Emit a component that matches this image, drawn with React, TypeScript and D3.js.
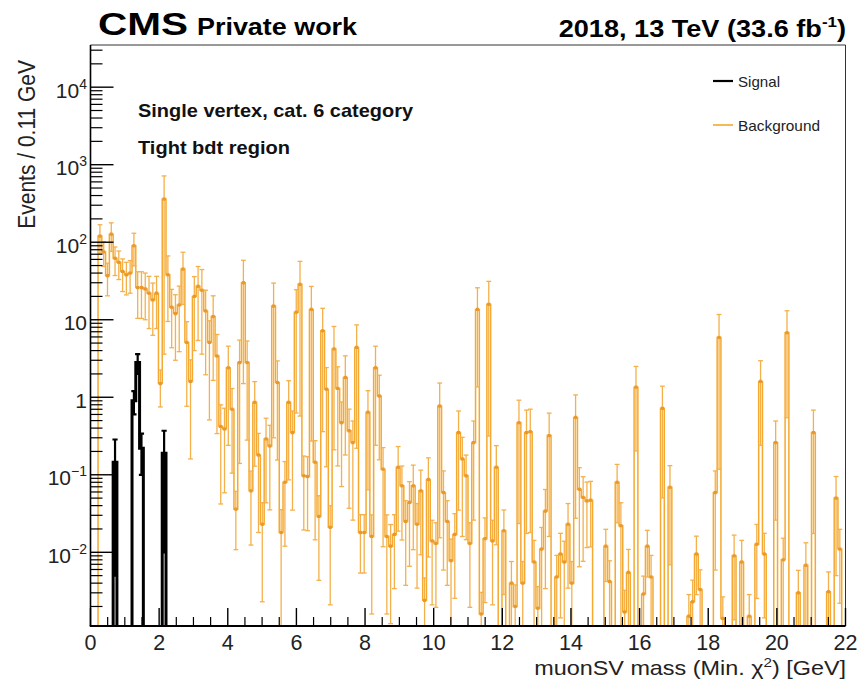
import React from "react";
import * as d3 from "d3";

// Canvas and frame geometry
const W = 858;
const H = 679;
const FRAME = { left: 90.5, right: 845.5, top: 45, bottom: 626 };

// Axis ranges
const X_MIN = 0;
const X_MAX = 22;
const BIN_WIDTH = 0.11;
const Y_MIN = 0.00112;
const Y_MAX = 35000;

const X_MAJOR_TICKS = [0, 2, 4, 6, 8, 10, 12, 14, 16, 18, 20, 22];
const Y_MAJOR_EXP = [-2, -1, 0, 1, 2, 3, 4];

// Background: events per bin (0.11 GeV bins, 0–22 GeV)
const bkgValues = [
  0, 0, 120, 75, 37, 127, 62, 55, 42, 38,
  40, 90, 26, 26, 25, 22, 18, 22, 1.5, 360,
  38, 14.5, 12, 15.5, 45, 5.1, 1.6, 20, 27, 24,
  13, 5.1, 11, 3.4, 0.42, 0.39, 2.4, 0.7, 0.036, 2.8,
  30, 2.8, 0.062, 0.86, 0.18, 0.023, 0.29, 0.235, 15, 1.55,
  0.018, 0.08, 0.86, 0.35, 12.5, 28.6, 0.097, 0.095, 13.6, 0.145,
  0.029, 7.2, 1.27, 0.021, 4.2, 1.3, 0.47, 1.8, 0.37, 0.26,
  4.4, 0.018, 0.018, 0.64, 0.016, 2.4, 1.04, 0.118, 0.016, 0.012,
  0.017, 0.125, 0.072, 0.025, 0.044, 0.072, 0.023, 0.062, 0.0024, 0.087,
  0.014, 0.013, 0.77, 0.059, 0.025, 0.0078, 0.017, 0.35, 0.16, 0.097,
  0.013, 0.26, 13.6, 0.0016, 0.015, 15.8, 0.014, 0.125, 0, 0.019,
  0, 0.004, 0.002, 0.47, 0.004, 0.35, 0.36, 0.0075, 0.0019, 0.011,
  0.034, 0.32, 0, 0.0048, 0.0095, 0.0075, 0.023, 0.004, 0.55, 0.065,
  0.051, 0.046, 0.047, 0, 0, 0, 0.012, 0.0042, 0, 0.08,
  0.022, 0.0017, 0.0055, 0, 1.35, 0, 0.0029, 0.012, 0.0048, 0,
  0, 0.72, 0, 0.069, 0, 0, 0, 0, 0.0015, 0.0023,
  0.0095, 0.0033, 0, 0, 0, 0.059, 5.9, 0.0014, 0, 0,
  0.009, 0, 0.0075, 0, 0.0015, 0, 0.0127, 1.6, 0.0095, 0,
  0, 0.26, 0, 0.008, 6.8, 0, 0, 0.003, 0, 0.0068,
  0, 0.35, 0, 0, 0, 0.0031, 0, 0.05, 0.011, 0,
];

// Background: relative statistical uncertainty per bin
const bkgRelErr = [
  0, 0, 0.4, 0.35, 0.45, 0.4, 0.4, 0.4, 0.45, 0.45,
  0.45, 0.45, 0.6, 0.6, 0.6, 0.65, 0.65, 0.65, 0.5, 0.99,
  0.75, 0.7, 0.75, 0.75, 0.65, 0.85, 0.9, 0.8, 0.8, 0.85,
  0.85, 0.9, 0.85, 0.9, 0.9, 0.85, 0.9, 0.85, 0.7, 0.95,
  0.95, 0.9, 0.8, 0.85, 0.9, 0.9, 0.85, 0.85, 0.98, 0.9,
  0.97, 0.85, 0.9, 0.9, 0.95, 0.98, 0.8, 0.8, 0.98, 0.9,
  0.85, 0.95, 0.9, 0.9, 0.95, 0.9, 0.85, 0.9, 0.9, 0.9,
  0.95, 0.7, 0.7, 0.9, 0.9, 0.9, 0.85, 0.9, 0.9, 0.9,
  0.8, 0.85, 0.8, 0.85, 0.85, 0.85, 0.85, 0.85, 0.95, 0.9,
  0.85, 0.85, 0.98, 0.9, 0.85, 0.9, 0.85, 0.9, 0.9, 0.85,
  0.85, 0.9, 0.9, 0.9, 0.85, 0.98, 0.85, 0.9, 0, 0.85,
  0, 0.9, 0.9, 0.95, 0.9, 0.95, 0.95, 0.9, 0.9, 0.9,
  0.9, 0.95, 0, 0.9, 0.85, 0.85, 0.85, 0.9, 0.95, 0.9,
  0.85, 0.75, 0.75, 0, 0, 0, 0.65, 0.85, 0, 0.7,
  0.98, 0.9, 0.98, 0, 0.85, 0, 0.7, 0.6, 0.9, 0,
  0, 0.93, 0, 0.9, 0, 0, 0, 0, 0.9, 0.9,
  0.7, 0.8, 0, 0, 0, 0.9, 0.98, 0.9, 0, 0,
  0.85, 0, 0.9, 0, 0.9, 0, 0.8, 0.85, 0.85, 0,
  0, 0.9, 0, 0.9, 0.92, 0, 0, 0.95, 0, 0.95,
  0, 0.95, 0, 0, 0, 0.8, 0, 0.9, 0.8, 0,
];

// Signal: non-empty bins only
const sigBins = [6, 11, 12, 13, 19];
const sigValues = [0.145, 0.9, 2.8, 0.22, 0.19];
const sigErrors = [0.14, 0.3, 0.8, 0.12, 0.18];

const BKG_COLOR = "#f5a21e";
const BKG_ERR_COLOR = "#f4aa3c";
const BKG_MARK_COLOR = "#e8901a";
const SIG_COLOR = "#000000";
const FONT = "'Liberation Sans', Arial, Helvetica, sans-serif";

const nBins = bkgValues.length;

export default function App() {
  const x = d3.scaleLinear().domain([X_MIN, X_MAX]).range([FRAME.left, FRAME.right]);
  const y = d3.scaleLog().domain([Y_MIN, Y_MAX]).range([FRAME.bottom, FRAME.top]);
  const yc = (v: number) => (v > Y_MIN ? y(v) : FRAME.bottom + 6);
  const binLo = (i: number) => X_MIN + i * BIN_WIDTH;
  const binMid = (i: number) => X_MIN + (i + 0.5) * BIN_WIDTH;

  const sigFull: number[] = new Array(nBins).fill(0);
  const sigErrFull: number[] = new Array(nBins).fill(0);
  sigBins.forEach((b, k) => {
    sigFull[b] = sigValues[k];
    sigErrFull[b] = sigErrors[k];
  });

  const stepPath = (vals: number[]) => {
    const pts: [number, number][] = [];
    vals.forEach((v, i) => {
      const yy = yc(v);
      pts.push([x(binLo(i)), yy], [x(binLo(i + 1)), yy]);
    });
    return d3.line()(pts) || "";
  };

  const errorBars = (
    vals: number[],
    errs: number[],
    color: string,
    width: number,
    capHalf: number,
    key: string
  ) =>
    vals.map((v, i) => {
      if (!(v > 0)) return null;
      const e = errs[i];
      const cx = x(binMid(i));
      const hi = v + e;
      const lo = v - e;
      const yTop = Math.max(FRAME.top, y(hi));
      const yBot = lo > Y_MIN ? y(lo) : FRAME.bottom;
      return (
        <g key={`${key}${i}`} stroke={color} strokeWidth={width}>
          <line x1={cx} x2={cx} y1={yTop} y2={yBot} />
          {hi < Y_MAX && <line x1={cx - capHalf} x2={cx + capHalf} y1={yTop} y2={yTop} />}
          {lo > Y_MIN && <line x1={cx - capHalf} x2={cx + capHalf} y1={yBot} y2={yBot} />}
        </g>
      );
    });

  const bkgAbsErr = bkgValues.map((v, i) => v * bkgRelErr[i]);

  // ticks
  const xMinor = d3.range(0, 45).map((k) => k * 0.5).filter((v) => v % 2 !== 0);
  const yMinor: number[] = [];
  for (let k = -3; k <= 4; k++) {
    for (let m = 2; m <= 9; m++) {
      const v = m * Math.pow(10, k);
      if (v > Y_MIN && v < Y_MAX) yMinor.push(v);
    }
  }

  const yLabel = (k: number) => {
    if (k === 0) return <tspan>1</tspan>;
    if (k === 1) return <tspan>10</tspan>;
    const exp = k < 0 ? `\u2212${-k}` : `${k}`;
    return (
      <>
        <tspan>10</tspan>
        <tspan fontSize={14} dy={-9}>{exp}</tspan>
      </>
    );
  };

  return (
    <svg
      width={W}
      height={H}
      viewBox={`0 0 ${W} ${H}`}
      style={{ position: "absolute", left: 0, top: 0, background: "#fff" }}
      fontFamily={FONT}
    >
      <defs>
        <clipPath id="plotClip">
          <rect
            x={FRAME.left}
            y={FRAME.top}
            width={FRAME.right - FRAME.left}
            height={FRAME.bottom - FRAME.top}
          />
        </clipPath>
      </defs>
      <rect x={0} y={0} width={W} height={H} fill="#fff" />

      {/* histograms */}
      <g clipPath="url(#plotClip)">
        <g opacity={0.92}>
          <path d={stepPath(bkgValues)} fill="none" stroke={BKG_COLOR} strokeWidth={1.5} />
          {errorBars(bkgValues, bkgAbsErr, BKG_ERR_COLOR, 1.3, 2.4, "be")}
          {bkgValues.map((v, i) =>
            v > Y_MIN ? (
              <rect
                key={`bm${i}`}
                x={x(binMid(i)) - 1.6}
                y={y(v) - 1.6}
                width={3.2}
                height={3.2}
                fill={BKG_MARK_COLOR}
              />
            ) : null
          )}
        </g>
        <path d={stepPath(sigFull)} fill="none" stroke={SIG_COLOR} strokeWidth={3} />
        {errorBars(sigFull, sigErrFull, SIG_COLOR, 2.2, 2.6, "se")}
      </g>

      {/* frame */}
      <line x1={FRAME.left} x2={FRAME.right} y1={FRAME.top} y2={FRAME.top} stroke="#333" strokeWidth={1} />
      <line x1={FRAME.right} x2={FRAME.right} y1={FRAME.top} y2={FRAME.bottom} stroke="#333" strokeWidth={1} />

      {/* x axis */}
      <line x1={FRAME.left - 0.75} x2={FRAME.right} y1={FRAME.bottom} y2={FRAME.bottom} stroke="#000" strokeWidth={2} />
      {X_MAJOR_TICKS.map((t) => (
        <g key={`xt${t}`}>
          <line x1={x(t)} x2={x(t)} y1={FRAME.bottom} y2={FRAME.bottom - 18} stroke="#000" strokeWidth={1.4} />
          <text x={x(t)} y={650} fontSize={21.5} textAnchor="middle" fill="#222">
            {t}
          </text>
        </g>
      ))}
      {xMinor.map((t) => (
        <line key={`xm${t}`} x1={x(t)} x2={x(t)} y1={FRAME.bottom} y2={FRAME.bottom - 9} stroke="#000" strokeWidth={1.2} />
      ))}

      {/* y axis */}
      <line x1={FRAME.left} x2={FRAME.left} y1={FRAME.top} y2={FRAME.bottom} stroke="#000" strokeWidth={1.6} />
      {Y_MAJOR_EXP.map((k) => {
        const yy = y(Math.pow(10, k));
        return (
          <g key={`yt${k}`}>
            <line x1={FRAME.left} x2={FRAME.left + 23} y1={yy} y2={yy} stroke="#000" strokeWidth={1.4} />
            <text x={87} y={yy + 10.5} fontSize={21} textAnchor="end" fill="#222">
              {yLabel(k)}
            </text>
          </g>
        );
      })}
      {yMinor.map((v, i) => (
        <line key={`ym${i}`} x1={FRAME.left} x2={FRAME.left + 12} y1={y(v)} y2={y(v)} stroke="#000" strokeWidth={1.2} />
      ))}

      {/* axis titles */}
      <g transform={`translate(846,675) scale(1.17,1)`}>
        <text x={0} y={0} fontSize={20} textAnchor="end" fill="#222">
          muonSV mass (Min. χ<tspan fontSize={13} dy={-8}>2</tspan>
          <tspan dy={8}>) [GeV]</tspan>
        </text>
      </g>
      <g transform={`translate(35,60) scale(1.12,1) rotate(-90)`}>
        <text x={0} y={0} fontSize={21} textAnchor="end" fill="#222">
          Events / 0.11 GeV
        </text>
      </g>

      {/* header */}
      <text x={98} y={35} fontSize={31} fontWeight="bold" textLength={90} lengthAdjust="spacingAndGlyphs" fill="#000">
        CMS
      </text>
      <text x={197} y={35} fontSize={23} fontWeight="bold" textLength={160} lengthAdjust="spacingAndGlyphs" fill="#000">
        Private work
      </text>
      <g transform={`translate(846,37) scale(1.13,1)`}>
        <text x={0} y={0} fontSize={24} fontWeight="bold" textAnchor="end" fill="#000">
          2018, 13 TeV (33.6 fb<tspan fontSize={15} dy={-10}>-1</tspan>
          <tspan dy={10}>)</tspan>
        </text>
      </g>

      {/* category labels */}
      <text x={138} y={117} fontSize={18.5} fontWeight="bold" textLength={275} lengthAdjust="spacingAndGlyphs" fill="#111">
        Single vertex, cat. 6 category
      </text>
      <text x={138} y={154} fontSize={18.5} fontWeight="bold" textLength={152} lengthAdjust="spacingAndGlyphs" fill="#111">
        Tight bdt region
      </text>

      {/* legend */}
      <line x1={713} x2={733} y1={81} y2={81} stroke={SIG_COLOR} strokeWidth={2.2} />
      <text x={738} y={86.5} fontSize={15} textLength={42} lengthAdjust="spacingAndGlyphs" fill="#222">
        Signal
      </text>
      <line x1={713} x2={733} y1={125} y2={125} stroke={BKG_COLOR} strokeWidth={1.5} />
      <text x={738} y={130.5} fontSize={15} textLength={82} lengthAdjust="spacingAndGlyphs" fill="#222">
        Background
      </text>
    </svg>
  );
}
